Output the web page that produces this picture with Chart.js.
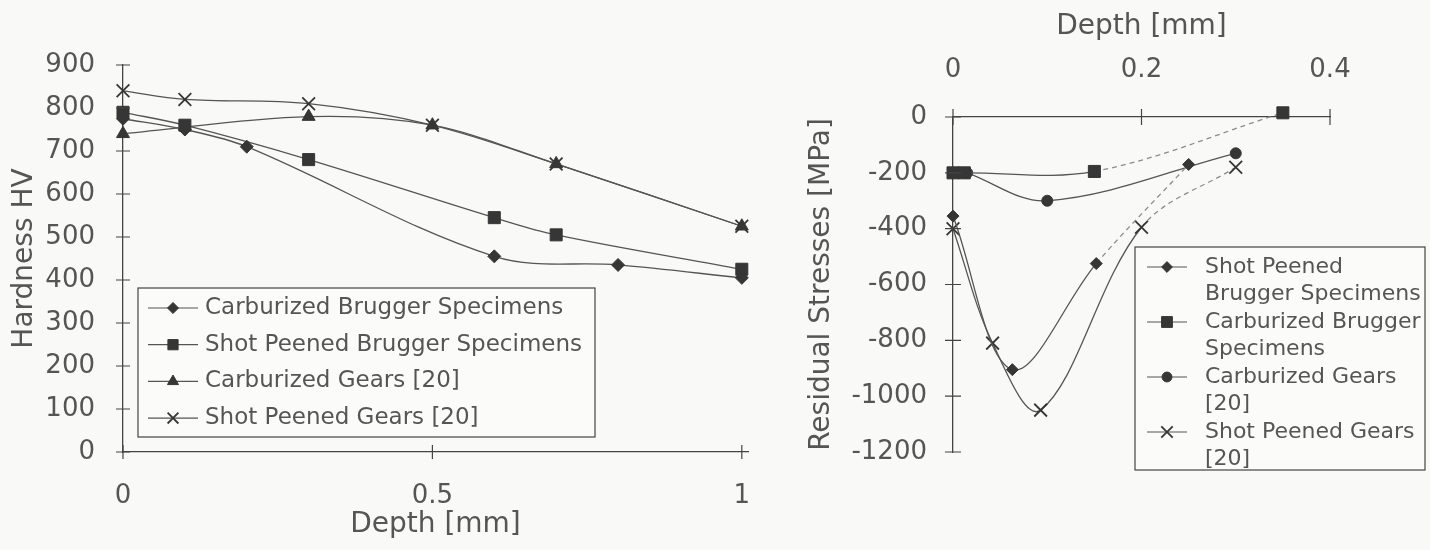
<!DOCTYPE html>
<html>
<head>
<meta charset="utf-8">
<title>Hardness and residual stress profiles</title>
<script src="https://cdn.jsdelivr.net/npm/chart.js@4.4.1/dist/chart.umd.min.js"></script>
<style>
  html, body { margin: 0; padding: 0; background: #f9f9f7; }
  #wrap { position: relative; width: 1430px; height: 550px; overflow: hidden; }
  #hardness_canvas { position: absolute; left: 0; top: 0; }
  #stress_canvas { position: absolute; left: 790px; top: 0; }
</style>
</head>
<body>
<div id="wrap">
  <canvas id="hardness_canvas" width="790" height="550"></canvas>
  <canvas id="stress_canvas" width="640" height="550"></canvas>
</div>
<script>
// ---- hardness profiles (left plot) ----
const hardnessTicksX = [0, 0.5, 1];

const carbBruggerDepth = [0, 0.1, 0.2, 0.6, 0.8, 1.0];
const carbBruggerHV    = [775, 750, 710, 455, 435, 405];

const spBruggerDepth = [0, 0.1, 0.3, 0.6, 0.7, 1.0];
const spBruggerHV    = [790, 760, 680, 545, 505, 425];

const carbGearsDepth = [0, 0.3, 0.5, 0.7, 1.0];
const carbGearsHV    = [740, 780, 760, 670, 525];

const spGearsDepth = [0, 0.1, 0.3, 0.5, 0.7, 1.0];
const spGearsHV    = [840, 820, 810, 760, 670, 525];

// ---- residual stress profiles (right plot) ----
const stressTicksX = [0, 0.2, 0.4];

const rsSpBruggerDepth = [0, 0.063, 0.152, 0.25];
const rsSpBruggerMPa   = [-355, -905, -525, -170];

const rsCarbBruggerDepth = [0, 0.012, 0.15, 0.35];
const rsCarbBruggerMPa   = [-200, -200, -195, 15];

const rsCarbGearsDepth = [0.015, 0.1, 0.3];
const rsCarbGearsMPa   = [-200, -300, -130];

const rsSpGearsDepth = [0, 0.042, 0.093, 0.2, 0.3];
const rsSpGearsMPa   = [-400, -810, -1050, -395, -180];

const lineCol = '#555';
const markCol = '#363636';
const textCol = '#555';
const axisCol = '#444';

Chart.defaults.font.family = '"DejaVu Sans", sans-serif';
Chart.defaults.color = textCol;

function pairs(xs, ys) {
  return xs.map((x, i) => ({ x: x, y: ys[i] }));
}

// dashed, lighter line from a given segment onward
function dashFrom(i) {
  return {
    borderDash: c => c.p0DataIndex >= i ? [5, 4] : undefined,
    borderColor: c => c.p0DataIndex >= i ? '#8c8c8c' : undefined
  };
}

function series(label, xs, ys, style, radius, extra) {
  return Object.assign({
    label: label,
    data: pairs(xs, ys),
    borderColor: lineCol,
    borderWidth: 1.3,
    tension: 0.35,
    pointStyle: style,
    pointRadius: radius,
    pointBackgroundColor: markCol,
    pointBorderColor: markCol,
    pointBorderWidth: style === 'crossRot' ? 1.8 : 1,
    clip: false
  }, extra || {});
}

// ticks that cross the axis line on both sides
const crossTicks = {
  id: 'crossTicks',
  afterDraw(chart, args, opts) {
    const ctx = chart.ctx;
    const area = chart.chartArea;
    const xs = chart.scales.x, ys = chart.scales.y;
    const axisY = opts.xTop ? area.top : area.bottom;
    const len = opts.len || 7;
    ctx.save();
    ctx.strokeStyle = axisCol;
    ctx.lineWidth = 1.2;
    ctx.beginPath();
    xs.ticks.forEach(t => {
      const px = xs.getPixelForValue(t.value);
      ctx.moveTo(px, axisY - len);
      ctx.lineTo(px, axisY + len);
    });
    ys.ticks.forEach(t => {
      const py = ys.getPixelForValue(t.value);
      ctx.moveTo(area.left - len, py);
      ctx.lineTo(area.left + len, py);
    });
    ctx.stroke();
    ctx.restore();
  }
};

function wrapText(ctx, text, maxW) {
  const words = text.split(' ');
  const out = [];
  let cur = '';
  words.forEach(w => {
    const t = cur ? cur + ' ' + w : w;
    if (cur && ctx.measureText(t).width > maxW) {
      out.push(cur);
      cur = w;
    } else {
      cur = t;
    }
  });
  if (cur) out.push(cur);
  return out;
}

// boxed legend placed at a fixed spot
const boxLegend = {
  id: 'boxLegend',
  afterDraw(chart, args, o) {
    const ctx = chart.ctx;
    ctx.save();
    ctx.font = o.fontSize + 'px "DejaVu Sans", sans-serif';
    ctx.fillStyle = '#fbfbfa';
    ctx.fillRect(o.left, o.top, o.width, o.height);
    ctx.strokeStyle = axisCol;
    ctx.lineWidth = 1.2;
    ctx.strokeRect(o.left, o.top, o.width, o.height);
    let y = o.firstRow;
    chart.data.datasets.forEach(ds => {
      const lines = wrapText(ctx, ds.label, o.maxTextWidth);
      ctx.beginPath();
      ctx.strokeStyle = lineCol;
      ctx.lineWidth = 1.2;
      ctx.moveTo(o.sampleX0, y);
      ctx.lineTo(o.sampleX1, y);
      ctx.stroke();
      ctx.fillStyle = markCol;
      ctx.strokeStyle = markCol;
      ctx.lineWidth = ds.pointBorderWidth;
      Chart.helpers.drawPoint(ctx, {
        pointStyle: ds.pointStyle,
        radius: ds.pointRadius * o.markerScale,
        rotation: 0,
        borderWidth: ds.pointBorderWidth
      }, (o.sampleX0 + o.sampleX1) / 2, y);
      ctx.fillStyle = textCol;
      ctx.textAlign = 'left';
      ctx.textBaseline = 'middle';
      lines.forEach((ln, i) => ctx.fillText(ln, o.textX, y + i * o.lineHeight));
      y += lines.length * o.lineHeight;
    });
    ctx.restore();
  }
};

function fixedTicks(list) {
  return s => { s.ticks = list.map(v => ({ value: v })); };
}

// ---- left chart ----
new Chart(document.getElementById('hardness_canvas'), {
  type: 'line',
  data: {
    datasets: [
      series('Carburized Brugger Specimens', carbBruggerDepth, carbBruggerHV, 'rectRot', 6.5),
      series('Shot Peened Brugger Specimens', spBruggerDepth, spBruggerHV, 'rect', 8.5),
      series('Carburized Gears [20]', carbGearsDepth, carbGearsHV, 'triangle', 7.5),
      series('Shot Peened Gears [20]', spGearsDepth, spGearsHV, 'crossRot', 9)
    ]
  },
  options: {
    responsive: false,
    animation: false,
    layout: { padding: { top: 65, right: 42, left: 0, bottom: 0 } },
    plugins: {
      legend: { display: false },
      tooltip: { enabled: false },
      crossTicks: { xTop: false, len: 7 },
      boxLegend: {
        left: 138, top: 288, width: 457, height: 149,
        firstRow: 308, lineHeight: 36.7, fontSize: 23,
        sampleX0: 148, sampleX1: 198, textX: 205,
        maxTextWidth: 400, markerScale: 0.85
      }
    },
    scales: {
      x: {
        type: 'linear', position: 'bottom', min: 0, max: 1.01,
        afterBuildTicks: fixedTicks(hardnessTicksX),
        afterFit: s => { s.height = 98; },
        grid: { display: false, drawTicks: false },
        border: { display: true, color: axisCol, width: 1.3 },
        ticks: { padding: 29, font: { size: 26 }, callback: v => String(v) },
        title: { display: true, text: 'Depth [mm]', font: { size: 28 }, padding: { top: 0, bottom: 8 } }
      },
      y: {
        type: 'linear', min: 0, max: 900,
        afterFit: s => { s.width = 123; },
        grid: { display: false, drawTicks: false },
        border: { display: true, color: axisCol, width: 1.3 },
        ticks: { stepSize: 100, padding: 28, font: { size: 26 }, callback: v => String(v) },
        title: { display: true, text: 'Hardness HV', font: { size: 28 }, padding: { top: 8, bottom: 0 } }
      }
    }
  },
  plugins: [crossTicks, boxLegend]
});

// ---- right chart ----
new Chart(document.getElementById('stress_canvas'), {
  type: 'line',
  data: {
    datasets: [
      series('Shot Peened Brugger Specimens', rsSpBruggerDepth, rsSpBruggerMPa, 'rectRot', 6, { segment: dashFrom(2) }),
      series('Carburized Brugger Specimens', rsCarbBruggerDepth, rsCarbBruggerMPa, 'rect', 8.5, { segment: dashFrom(2) }),
      series('Carburized Gears [20]', rsCarbGearsDepth, rsCarbGearsMPa, 'circle', 5.5),
      series('Shot Peened Gears [20]', rsSpGearsDepth, rsSpGearsMPa, 'crossRot', 9, { segment: dashFrom(3) })
    ]
  },
  options: {
    responsive: false,
    animation: false,
    layout: { padding: { top: 0, right: 100, left: 0, bottom: 98 } },
    plugins: {
      legend: { display: false },
      tooltip: { enabled: false },
      crossTicks: { xTop: true, len: 8 },
      boxLegend: {
        left: 345, top: 247, width: 290, height: 223,
        firstRow: 267, lineHeight: 27.5, fontSize: 22,
        sampleX0: 357, sampleX1: 397, textX: 415,
        maxTextWidth: 222, markerScale: 0.9
      }
    },
    scales: {
      x: {
        type: 'linear', position: 'top', min: 0, max: 0.4,
        afterBuildTicks: fixedTicks(stressTicksX),
        afterFit: s => { s.height = 117; },
        grid: { display: false, drawTicks: false },
        border: { display: true, color: axisCol, width: 1.3 },
        ticks: { padding: 31, font: { size: 26 }, callback: v => String(v) },
        title: { display: true, text: 'Depth [mm]', font: { size: 28 }, padding: { top: 10, bottom: 0 } }
      },
      y: {
        type: 'linear', min: -1200, max: 0,
        afterFit: s => { s.width = 163; },
        grid: { display: false, drawTicks: false },
        border: { display: true, color: axisCol, width: 1.3 },
        ticks: { stepSize: 200, padding: 26, font: { size: 26 }, callback: v => String(v) },
        title: { display: true, text: 'Residual Stresses [MPa]', font: { size: 28 }, padding: { top: 15, bottom: 0 } }
      }
    }
  },
  plugins: [crossTicks, boxLegend]
});
</script>
</body>
</html>
